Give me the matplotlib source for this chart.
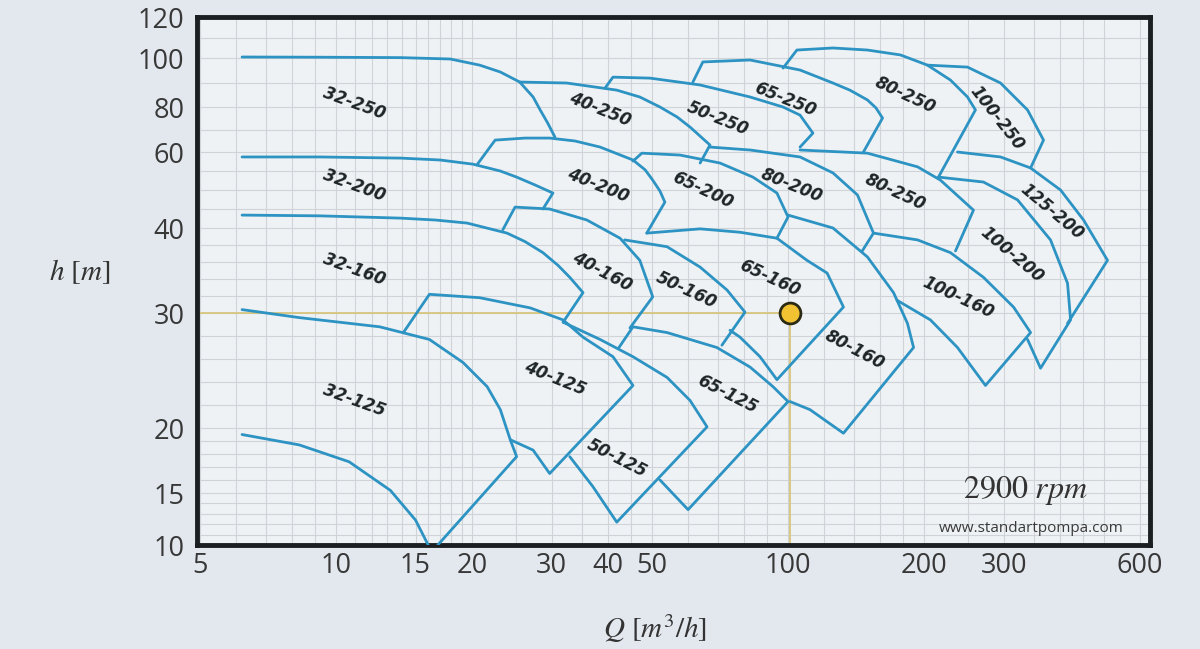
import numpy as np
import matplotlib
matplotlib.use('Agg')
import matplotlib.pyplot as plt

# pump range outlines, Q [m3/h] and h [m]
q_32_250 = [6.2, 9.2, 13.9, 17.9, 20.8, 23.1, 25.5, 27.3, 28.3, 29.4, 30.5]
h_32_250 = [100.5, 100.4, 100.2, 99.6, 97.1, 94.3, 90.2, 84.1, 78.7, 72.9, 66.7]
q_32_200 = [6.2, 9.2, 13.9, 17.0, 20.1, 23.1, 25.1, 27.6, 30.2, 28.7]
h_32_200 = [58.7, 58.7, 58.4, 57.9, 56.8, 55.0, 53.4, 51.3, 49.2, 45.0]
q_32_160 = [6.2, 9.2, 13.9, 16.6, 19.5, 23.9, 26.2, 28.7, 31.0, 32.9, 35.2, 31.8]
h_32_160 = [43.4, 43.2, 42.6, 42.1, 41.3, 39.4, 38.4, 37.1, 35.6, 34.2, 32.4, 29.2]
q_32_125 = [6.2, 8.3, 12.5, 16.1, 19.1, 21.6, 23.1, 24.3, 25.1, 16.8]
h_32_125 = [30.4, 29.6, 28.8, 27.7, 25.7, 23.6, 21.6, 19.1, 17.8, 10.0]
q_32_125_min = [6.2, 8.3, 10.7, 13.2, 15.0, 16.0]
h_32_125_min = [19.5, 18.7, 17.4, 15.2, 12.4, 10.0]

q_40_250 = [25.5, 32.4, 41.8, 47.0, 52.1, 56.8, 60.7, 67.2, 63.9]
h_40_250 = [90.2, 89.8, 86.9, 84.1, 80.0, 75.6, 71.1, 63.1, 57.1]
q_40_200 = [20.5, 22.5, 26.2, 29.7, 33.8, 38.4, 45.4, 48.3, 50.2, 52.1, 53.4, 48.7]
h_40_200 = [56.6, 65.3, 66.2, 66.2, 64.9, 62.2, 57.9, 55.3, 52.6, 49.7, 46.8, 39.4]
q_40_160 = [23.4, 24.9, 29.7, 35.9, 42.5, 47.0, 50.2, 44.7]
h_40_160 = [39.8, 45.5, 45.0, 42.1, 38.8, 36.2, 31.9, 28.7]
q_40_125 = [14.1, 16.1, 20.8, 26.9, 31.8, 35.2, 41.0, 45.4, 29.7, 27.3, 24.3]
h_40_125 = [28.3, 32.2, 31.8, 30.6, 29.4, 27.9, 26.2, 23.7, 16.5, 18.3, 19.1]

q_50_250 = [39.4, 41.0, 49.5, 63.9, 82.4, 97.5, 106.3, 113.5, 106.3]
h_50_250 = [87.8, 92.2, 91.8, 89.0, 84.1, 80.0, 76.4, 68.4, 62.2]
q_50_160 = [43.5, 54.0, 63.9, 73.3, 80.3, 71.4]
h_50_160 = [38.6, 37.8, 35.4, 32.7, 30.1, 27.2]
q_50_125 = [31.8, 38.4, 45.4, 54.0, 60.7, 66.2, 41.8, 37.0, 32.9]
h_50_125 = [29.2, 27.7, 26.2, 24.4, 22.4, 20.1, 12.2, 15.5, 17.8]

q_65_250 = [61.6, 64.8, 82.4, 106.3, 125.7, 137.0, 149.8, 156.5, 161.8, 146.8]
h_65_250 = [90.2, 98.4, 99.2, 95.1, 89.8, 86.9, 82.9, 79.6, 75.1, 60.0]
q_65_200 = [45.4, 47.5, 57.7, 70.7, 83.6, 94.5, 100.0, 94.5]
h_65_200 = [57.6, 59.7, 59.2, 57.1, 53.4, 49.2, 42.9, 38.8]
q_65_160 = [48.7, 63.9, 78.3, 94.5, 110.1, 122.0, 132.6, 94.5, 86.7, 78.3, 74.4]
h_65_160 = [39.4, 39.9, 39.5, 38.8, 36.2, 34.7, 30.7, 24.2, 26.2, 27.9, 28.5]
q_65_125 = [42.1, 45.4, 54.0, 69.6, 82.4, 92.6, 100.0, 60.1, 52.1]
h_65_125 = [26.9, 28.8, 28.3, 27.0, 25.3, 23.6, 22.3, 13.4, 16.0]

q_80_250 = [97.5, 104.6, 125.7, 149.8, 177.3, 203.4, 228.7, 249.4, 259.7, 215.1]
h_80_250 = [95.9, 103.9, 104.9, 103.9, 101.5, 97.1, 91.0, 84.1, 78.7, 53.4]
q_80_250b = [106.3, 149.8, 193.4, 217.3, 257.1, 234.6]
h_80_250b = [60.9, 59.7, 56.1, 52.6, 44.7, 37.3]
q_80_200 = [67.2, 82.4, 106.3, 125.7, 142.4, 154.5, 145.9]
h_80_200 = [62.2, 60.9, 58.7, 54.5, 48.7, 39.4, 37.3]
q_80_160 = [100.0, 125.7, 149.8, 171.1, 183.7, 189.5, 132.6, 111.8, 101.0]
h_80_160 = [43.4, 40.0, 36.6, 32.4, 29.1, 27.0, 19.6, 21.6, 22.3]

q_100_250 = [203.4, 249.4, 295.1, 338.6, 367.3, 343.9]
h_100_250 = [97.1, 96.3, 89.8, 78.7, 65.3, 55.8]
q_125_200 = [237.0, 295.1, 343.9, 400.6, 450.4, 508.8, 415.1]
h_125_200 = [60.0, 58.7, 55.8, 50.0, 42.1, 36.2, 29.1]
q_100_200 = [215.1, 270.5, 321.8, 380.6, 415.1, 421.6, 361.8, 338.6]
h_100_200 = [53.4, 52.1, 47.4, 38.6, 33.5, 29.4, 25.2, 27.7]
q_100_160 = [154.5, 193.4, 228.7, 270.5, 315.3, 343.9, 273.3, 237.0, 206.5, 174.2]
h_100_160 = [39.4, 38.6, 37.1, 34.2, 30.7, 28.3, 23.7, 27.0, 29.4, 31.5]

# range labels
label_text = ['32-250', '40-250', '50-250', '65-250', '80-250', '100-250',
              '32-200', '40-200', '65-200', '80-200', '80-250', '125-200',
              '100-200', '100-160', '32-160', '40-160', '50-160', '65-160',
              '80-160', '32-125', '40-125', '50-125', '65-125']
label_q = [11.0, 38.4, 70.0, 98.4, 181.4, 290.0,
           11.0, 38.0, 64.8, 102.0, 172.5, 383.7,
           313.0, 237.7, 11.0, 38.8, 59.5, 91.2,
           140.7, 11.0, 30.5, 41.8, 73.3]
label_h = [81.6, 78.7, 75.1, 82.9, 84.9, 75.1,
           51.3, 51.3, 50.0, 51.3, 49.5, 44.2,
           36.8, 31.8, 35.1, 34.8, 32.7, 34.1,
           26.8, 22.4, 24.3, 17.7, 22.9]
label_rot = [-20, -22, -22, -22, -25, -52,
             -20, -22, -25, -22, -25, -40,
             -40, -25, -20, -28, -25, -25,
             -28, -20, -22, -27, -27]

# operating point
q_op = 101
h_op = 30

x_ticks = [5, 10, 15, 20, 30, 40, 50, 100, 200, 300, 600]
y_ticks = [10, 15, 20, 30, 40, 60, 80, 100, 120]

# the printed h axis is not evenly spaced, so calibrate it from the tick marks
h_knots = [10, 15, 20, 30, 40, 60, 80, 100, 120]
h_pos = [0, 0.0985, 0.2216, 0.4394, 0.6004, 0.7443, 0.8295, 0.9223, 1.0]

def h_fwd(h):
    return np.interp(h, h_knots, h_pos)

def h_inv(p):
    return np.interp(p, h_pos, h_knots)

outlines = [(q_32_250, h_32_250), (q_32_200, h_32_200), (q_32_160, h_32_160),
            (q_32_125, h_32_125), (q_32_125_min, h_32_125_min),
            (q_40_250, h_40_250), (q_40_200, h_40_200), (q_40_160, h_40_160),
            (q_40_125, h_40_125), (q_50_250, h_50_250), (q_50_160, h_50_160),
            (q_50_125, h_50_125), (q_65_250, h_65_250), (q_65_200, h_65_200),
            (q_65_160, h_65_160), (q_65_125, h_65_125), (q_80_250, h_80_250),
            (q_80_250b, h_80_250b), (q_80_200, h_80_200), (q_80_160, h_80_160),
            (q_100_250, h_100_250), (q_125_200, h_125_200),
            (q_100_200, h_100_200), (q_100_160, h_100_160)]

plt.rcParams['mathtext.fontset'] = 'stix'

fig = plt.figure(figsize=(12, 6.49), dpi=100, facecolor='#e3e8ee')
ax = fig.add_axes([0.1642, 0.1602, 0.7942, 0.8136])
ax.set_facecolor('#eff2f5')
ax.set_xscale('log')
ax.set_yscale('function', functions=(h_fwd, h_inv))
ax.set_xlim(4.93, 632)
ax.set_ylim(10, 120)

# graph paper
grid_q = list(range(5, 21)) + [25, 30, 35, 40, 45, 50, 60, 70, 80, 90, 100,
                               120, 140, 160, 180, 200, 250, 300, 350, 400,
                               450, 500, 600]
grid_h = list(range(10, 20)) + [20, 22, 24, 26, 28, 30, 32, 34, 36, 38, 40,
                                45, 50, 55, 60, 70, 80, 90, 100, 110]
for q in grid_q:
    ax.axvline(q, color='#d0d4d8', lw=0.8, zorder=1)
for h in grid_h:
    ax.axhline(h, color='#d0d4d8', lw=0.8, zorder=1)

ax.plot([4.93, q_op], [h_op, h_op], color='#d8c47c', lw=1.3, zorder=2)
ax.plot([q_op, q_op], [10, h_op], color='#d8c47c', lw=1.3, zorder=2)

for q, h in outlines:
    ax.plot(q, h, color='#2d93c3', lw=2.0, zorder=3, solid_joinstyle='round',
            solid_capstyle='round')

for t, q, h, r in zip(label_text, label_q, label_h, label_rot):
    ax.text(q, h, t, rotation=r, rotation_mode='anchor', ha='center',
            va='center', fontsize=12, fontweight='bold', fontstyle='italic',
            family='DejaVu Sans', color='#1d2526', zorder=4)

ax.plot(q_op, h_op, 'o', ms=15, mfc='#f2c232', mec='#2b2a14', mew=2, zorder=5)

ax.set_xticks(x_ticks)
ax.set_xticklabels([str(v) for v in x_ticks])
ax.set_yticks(y_ticks)
ax.set_yticklabels([str(v) for v in y_ticks])
ax.minorticks_off()
ax.tick_params(length=0, labelsize=19.5, labelcolor='#383838')
ax.tick_params(axis='y', pad=9)
ax.tick_params(axis='x', pad=5)
for lab in ax.get_xticklabels() + ax.get_yticklabels():
    lab.set_family('Open Sans')

for s in ax.spines.values():
    s.set_linewidth(3.5)
    s.set_color('#1b1f22')

ax.text(0.869, 0.104, r'$2900\ rpm$', transform=ax.transAxes, ha='center',
        va='center', fontsize=23, color='#333333')
ax.text(0.875, 0.032, 'www.standartpompa.com', transform=ax.transAxes,
        ha='center', va='center', fontsize=11, color='#3a3a3a',
        family='Open Sans')

fig.text(0.0667, 0.581, r'$h\ [m]$', ha='center', va='center', fontsize=21,
         color='#333333')
fig.text(0.546, 0.032, r'$Q\ [m^3/h]$', ha='center', va='center',
         fontsize=21, color='#333333')

fig.savefig('out.png', dpi=100, facecolor=fig.get_facecolor())
